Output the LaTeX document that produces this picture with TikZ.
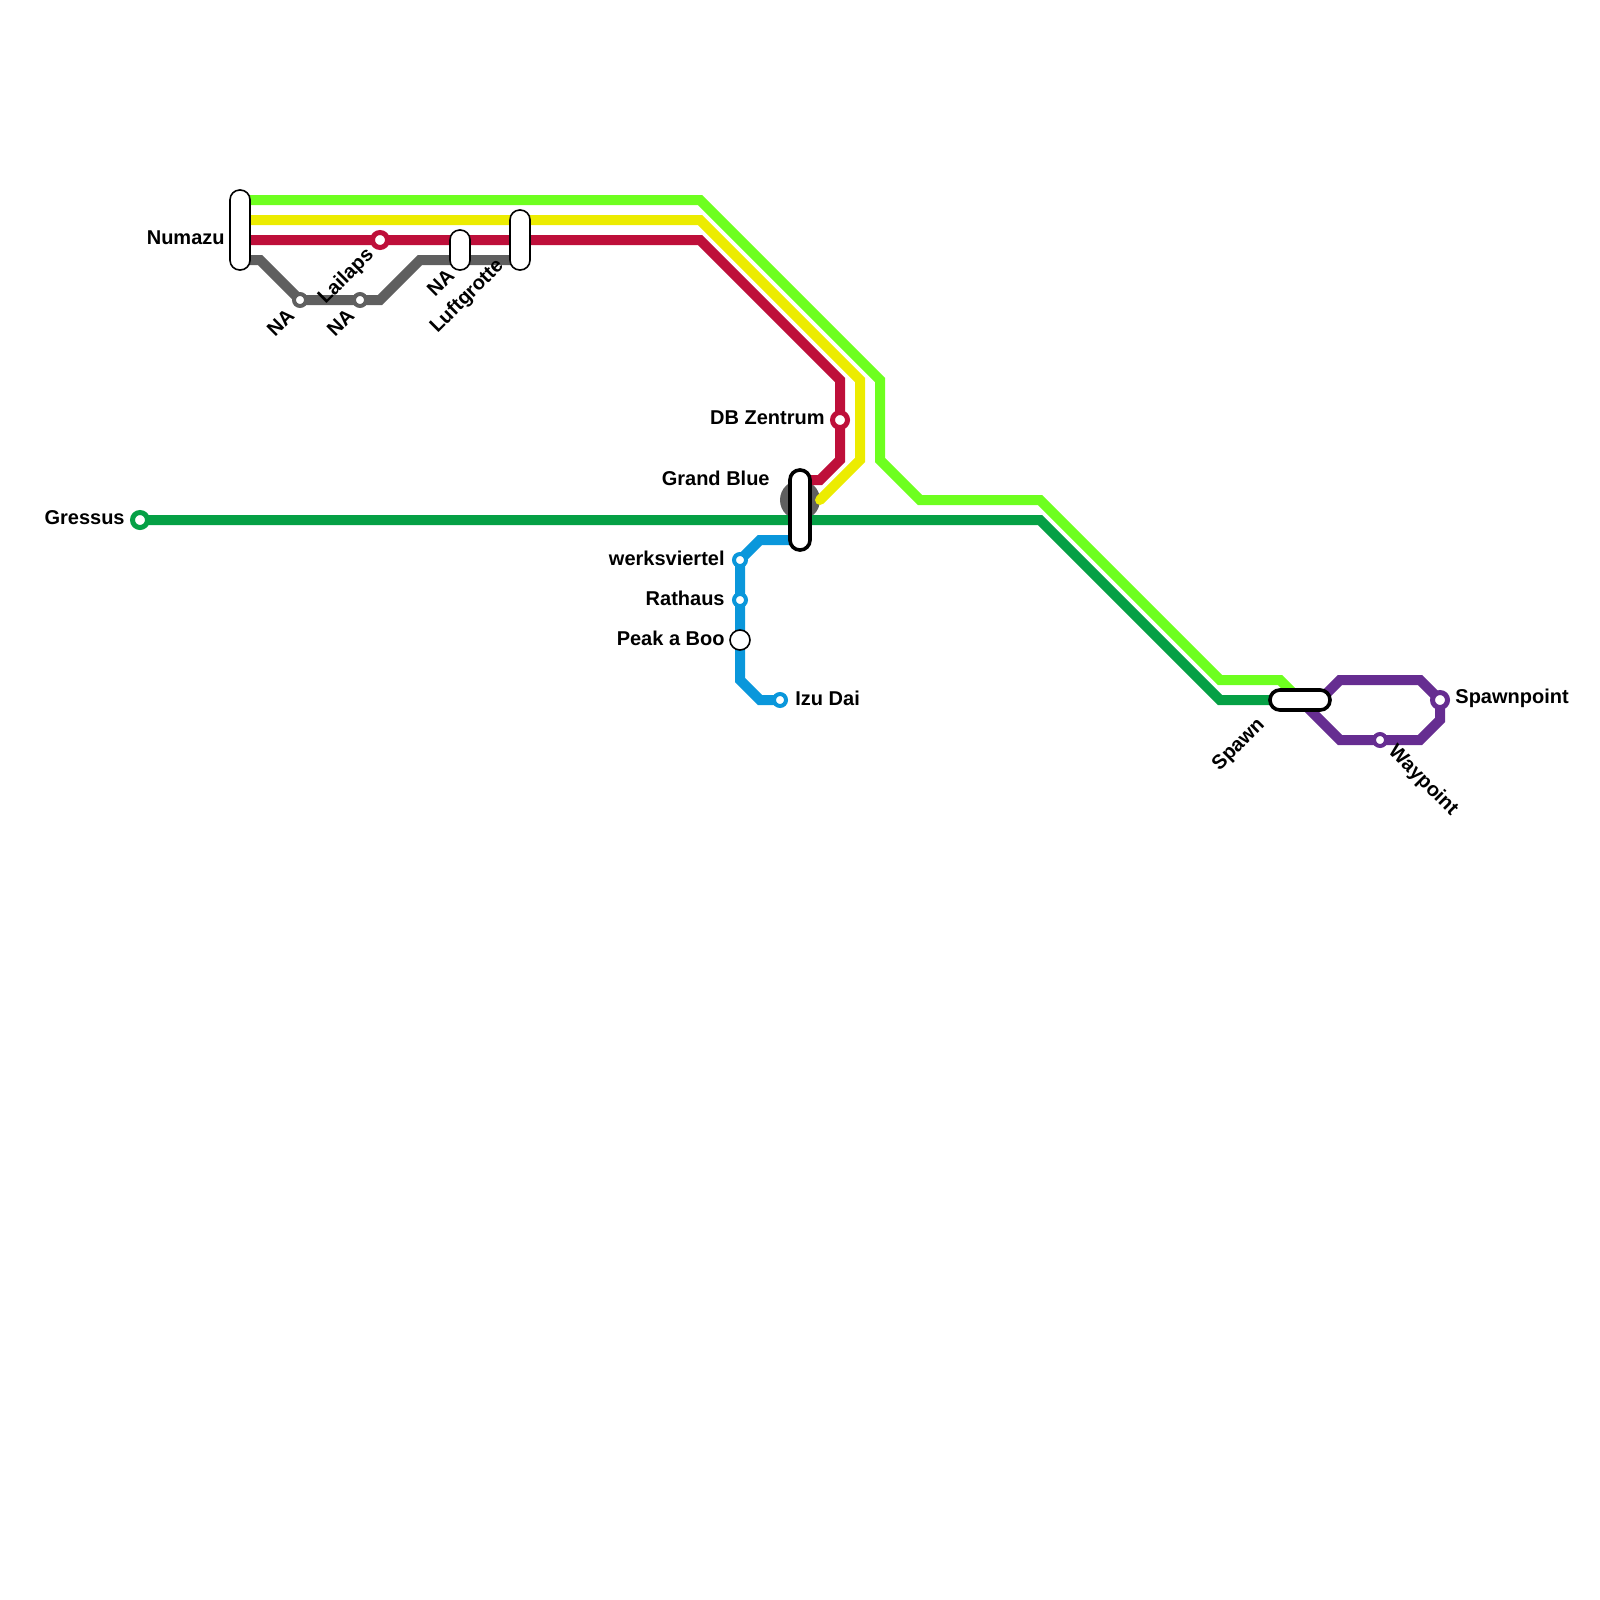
\documentclass[tikz,border=0pt]{standalone}
\usepackage{fontspec}
\setmainfont{Liberation Sans}
\usetikzlibrary{backgrounds}
\definecolor{lineLime}{HTML}{6EFF1F}
\definecolor{lineYellow}{HTML}{ECEC00}
\definecolor{lineRed}{HTML}{BE0F3A}
\definecolor{lineGrey}{HTML}{5F5F5F}
\definecolor{lineGreen}{HTML}{05A045}
\definecolor{lineBlue}{HTML}{0A97DB}
\definecolor{linePurple}{HTML}{662D91}
\tikzset{
  metro/.style={line width=5pt,line join=miter},
  ring/.style={circle,fill=white,inner sep=0pt,minimum size=6pt,line width=2pt},
  bigring/.style={ring,minimum size=7.5pt,line width=2.5pt},
  pill/.style={draw=black,fill=white,inner sep=0pt,rounded corners=4.9pt,line width=.8pt},
  lbl/.style={inner sep=0pt,font=\fontsize{10}{12}\selectfont\bfseries}
}
\begin{document}
\begin{tikzpicture}[x=.5pt,y=-.5pt]
\useasboundingbox (0,0) rectangle (1600,1600);
% stations
\foreach \n/\x/\y/\c in {lailaps/380/240/lineRed,zentrum/840/420/lineRed,gressus/140/520/lineGreen,spawnpoint/1440/700/linePurple}{\node[bigring,draw=\c] (\n) at (\x,\y) {};}
\foreach \n/\x/\y/\c in {naone/300/300/lineGrey,natwo/360/300/lineGrey,werks/740/560/lineBlue,rathaus/740/600/lineBlue,izu/780/700/lineBlue,waypoint/1380/740/linePurple}{\node[ring,draw=\c] (\n) at (\x,\y) {};}
\node[pill,circle,minimum size=10pt] (peak) at (740,640) {};
\node[pill,minimum width=10pt,minimum height=40pt] (numazu) at (240,230) {};
\node[pill,minimum width=10pt,minimum height=20pt] (nathree) at (460,250) {};
\node[pill,minimum width=10pt,minimum height=30pt] (luft) at (520,240) {};
\node[pill,line width=1.8pt,minimum width=10pt,minimum height=40pt] (grand) at (800,510) {};
\node[pill,line width=1.8pt,minimum width=30pt,minimum height=10pt] (spawn) at (1300,700) {};
% lines
\begin{pgfonlayer}{background}
\fill[lineGrey] (grand.center)+(0,-10) circle[radius=20];
\draw[metro,lineGrey] (numazu.center)+(0,30) -- (260,260) -- (naone.center) -- (natwo.center) -- (380,300) -- (420,260) -- (luft.center|-0,260);
\draw[metro,lineLime] (numazu.center)+(0,-30) -- (700,200) -- (880,380) -- (880,460) -- (920,500) -- (1040,500) -- (1220,680) -- (1280,680) -- (spawn.center);
\draw[metro,lineYellow,line cap=round] (numazu.center)+(0,-10) -- (700,220) -- (860,380) -- (860,460) -- (820,500);
\draw[metro,lineRed] (numazu.center)+(0,10) -- (lailaps.center) -- (700,240) -- (840,380) -- (zentrum.center) -- (840,460) -- (820,480) -- (grand.center|-0,480);
\draw[metro,lineGreen] (gressus.center) -- (1040,520) -- (1220,700) -- (spawn.center);
\draw[metro,lineBlue] (grand.center|-0,540) -- (760,540) -- (werks.center) -- (rathaus.center) -- (peak.center) -- (740,680) -- (760,700) -- (izu.center);
\draw[metro,linePurple] (spawn.center) -- (1320,700) -- (1340,680) -- (1420,680) -- (spawnpoint.center) -- (1440,720) -- (1420,740) -- (waypoint.center) -- (1340,740) -- (1320,720) -- cycle;
\end{pgfonlayer}
% labels
\foreach \n/\x/\y/\t in {tnumazu/225/238/Numazu,tzentrum/825/418/DB Zentrum,tgrand/770/478/Grand Blue,tgressus/125/518/Gressus,twerks/725/558/werksviertel,trathaus/725/598/Rathaus,tpeak/725/638/Peak a Boo}{\node[lbl,anchor=east] (\n) at (\x,\y) {\t};}
\foreach \n/\x/\y/\t in {tizu/795/698/Izu Dai,tspawnpoint/1455/698/Spawnpoint}{\node[lbl,anchor=west] (\n) at (\x,\y) {\t};}
\foreach \n/\x/\y/\t in {tnaone/291/312/NA,tnatwo/351/312/NA,tlailaps/371/252/Lailaps,tnathree/451/272/NA,tluft/501/263/Luftgrotte,tspawn/1262/722/Spawn}{\node[lbl,anchor=east,rotate=45] (\n) at (\x,\y) {\t};}
\node[lbl,anchor=west,rotate=-45] (twaypoint) at (1391,749) {Waypoint};
\end{tikzpicture}
\end{document}
